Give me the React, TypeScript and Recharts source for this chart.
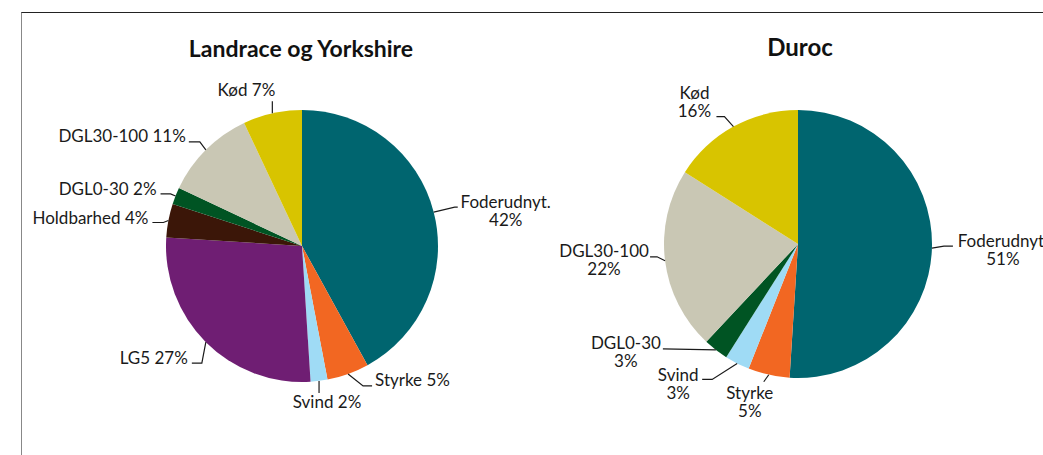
import { PieChart, Pie, Cell } from 'recharts';

// Landrace og Yorkshire
const lyNames = ['Foderudnyt.', 'Styrke', 'Svind', 'LG5', 'Holdbarhed', 'DGL0-30', 'DGL30-100', 'Kød'];
const lyValues = [42, 5, 2, 27, 4, 2, 11, 7];

// Duroc
const durocNames = ['Foderudnyt.', 'Styrke', 'Svind', 'DGL0-30', 'DGL30-100', 'Kød'];
const durocValues = [51, 5, 3, 3, 22, 16];

const colors: Record<string, string> = {
  'Foderudnyt.': '#00656f',
  Styrke: '#f26722',
  Svind: '#9fdbf5',
  LG5: '#6f1e73',
  Holdbarhed: '#3b1608',
  'DGL0-30': '#005423',
  'DGL30-100': '#c9c7b4',
  Kød: '#d8c400',
};

const lyData = lyNames.map((name, i) => ({ name, value: lyValues[i] }));
const durocData = durocNames.map((name, i) => ({ name, value: durocValues[i] }));

// leader line segments (relative, from slice edge) and text placement
interface LabelLayout {
  seg: [number, number][];
  tx: number;
  ty: number;
  anchor: 'start' | 'middle' | 'end';
  twoLine?: boolean;
}

const lyLayout: Record<string, LabelLayout> = {
  'Foderudnyt.': { seg: [[21, -5], [3, 0]], tx: 48, ty: 1, anchor: 'middle', twoLine: true },
  Styrke: { seg: [[15, 12], [9, 0]], tx: 3, ty: 0, anchor: 'start' },
  Svind: { seg: [[0, 12]], tx: 8, ty: 15, anchor: 'middle' },
  LG5: { seg: [[-4, 21], [-10, 0]], tx: -4, ty: 1, anchor: 'end' },
  Holdbarhed: { seg: [[-5, 2], [-11, 0]], tx: -4, ty: 1, anchor: 'end' },
  'DGL0-30': { seg: [[-5, -2], [-10, 0]], tx: -4, ty: 1, anchor: 'end' },
  'DGL30-100': { seg: [[-6, -8], [-11, 0]], tx: -3, ty: 0, anchor: 'end' },
  Kød: { seg: [[0, -12]], tx: 3, ty: -5, anchor: 'end' },
};

const durocLayout: Record<string, LabelLayout> = {
  'Foderudnyt.': { seg: [[12, -2], [9, 0]], tx: 50, ty: 1, anchor: 'middle', twoLine: true },
  Styrke: { seg: [[-5, 7]], tx: -14, ty: 17, anchor: 'middle', twoLine: true },
  Svind: { seg: [[-25, 16], [-10, 0]], tx: -24, ty: 2, anchor: 'middle', twoLine: true },
  'DGL0-30': { seg: [[-53, -1]], tx: -37, ty: 0, anchor: 'middle', twoLine: true },
  'DGL30-100': { seg: [[-8, -4], [-7, 0]], tx: -46, ty: 0, anchor: 'middle', twoLine: true },
  Kød: { seg: [[-9, -10], [-8, 0]], tx: -22, ty: -18, anchor: 'middle', twoLine: true },
};

const RAD = Math.PI / 180;
const FONT = 'Lato, "Open Sans", sans-serif';

function makeLabel(layout: Record<string, LabelLayout>) {
  // eslint-disable-next-line @typescript-eslint/no-explicit-any
  return (props: any) => {
    const { cx, cy, midAngle, outerRadius, name, value } = props;
    const l = layout[name];
    const x0 = cx + outerRadius * Math.cos(-midAngle * RAD);
    const y0 = cy + outerRadius * Math.sin(-midAngle * RAD);
    const pts: [number, number][] = [[x0, y0]];
    l.seg.forEach(([dx, dy]) => {
      const [px, py] = pts[pts.length - 1];
      pts.push([px + dx, py + dy]);
    });
    const [ex, ey] = pts[pts.length - 1];
    const tx = ex + l.tx;
    const ty = ey + l.ty;
    return (
      <g>
        <polyline
          points={pts.map((p) => p.join(',')).join(' ')}
          fill="none"
          stroke="#1a1a1a"
          strokeWidth={1.2}
        />
        {l.twoLine ? (
          <>
            <text x={tx} y={ty} textAnchor={l.anchor} fontSize={17} fill="#1a1a1a" fontFamily={FONT}>
              {name}
            </text>
            <text x={tx} y={ty + 18} textAnchor={l.anchor} fontSize={17} fill="#1a1a1a" fontFamily={FONT}>
              {value}%
            </text>
          </>
        ) : (
          <text x={tx} y={ty} textAnchor={l.anchor} fontSize={17} fill="#1a1a1a" fontFamily={FONT}>
            {name.replace('.', '')} {value}%
          </text>
        )}
      </g>
    );
  };
}

const titleStyle: React.CSSProperties = {
  position: 'absolute',
  fontFamily: FONT,
  fontWeight: 700,
  color: '#111',
  whiteSpace: 'nowrap',
  lineHeight: 1.2,
  transform: 'translateX(-50%)',
};

export default function App() {
  return (
    <div style={{ position: 'absolute', left: 0, top: 0, width: 1043, height: 455, overflow: 'hidden', background: '#fff' }}>
      <div
        style={{
          position: 'absolute',
          left: 21,
          top: 12,
          width: 1100,
          height: 500,
          borderTop: '1.3px solid #222',
          borderLeft: '1.3px solid #888',
        }}
      />
      <div style={{ ...titleStyle, left: 301, top: 35, fontSize: 23 }}>Landrace og Yorkshire</div>
      <div style={{ ...titleStyle, left: 800, top: 33, fontSize: 24 }}>Duroc</div>

      <div style={{ position: 'absolute', left: 0, top: 0 }}>
        <PieChart width={620} height={455}>
          <Pie
            data={lyData}
            dataKey="value"
            nameKey="name"
            cx={297}
            cy={241}
            outerRadius={136}
            startAngle={90}
            endAngle={-270}
            stroke="none"
            labelLine={false}
            label={makeLabel(lyLayout)}
            isAnimationActive={false}
          >
            {lyData.map((d) => (
              <Cell key={d.name} fill={colors[d.name]} />
            ))}
          </Pie>
        </PieChart>
      </div>

      <div style={{ position: 'absolute', left: 520, top: 0 }}>
        <PieChart width={523} height={455}>
          <Pie
            data={durocData}
            dataKey="value"
            nameKey="name"
            cx={273}
            cy={239}
            outerRadius={134}
            startAngle={90}
            endAngle={-270}
            stroke="none"
            labelLine={false}
            label={makeLabel(durocLayout)}
            isAnimationActive={false}
          >
            {durocData.map((d) => (
              <Cell key={d.name} fill={colors[d.name]} />
            ))}
          </Pie>
        </PieChart>
      </div>
    </div>
  );
}
